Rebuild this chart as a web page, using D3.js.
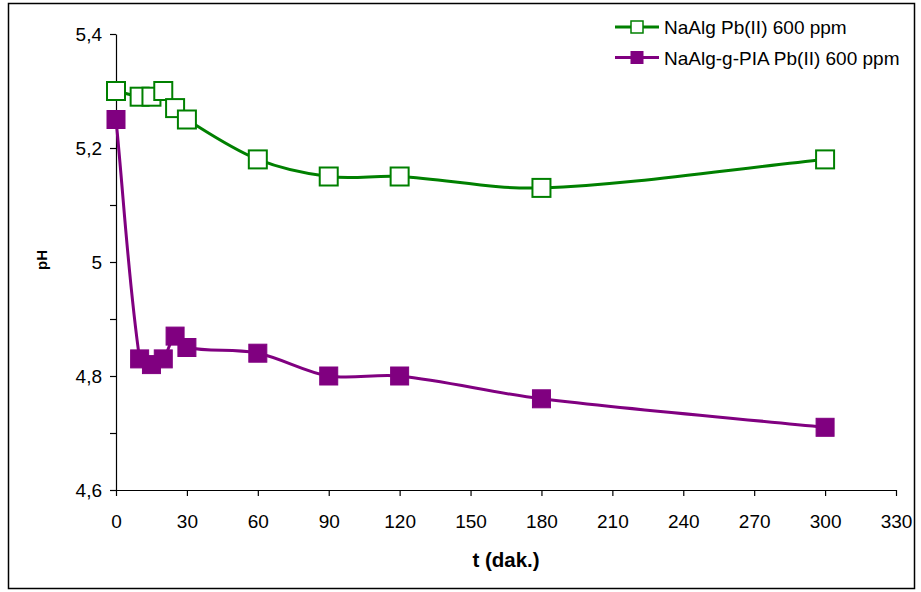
<!DOCTYPE html>
<html>
<head>
<meta charset="utf-8">
<script src="https://cdn.jsdelivr.net/npm/d3@7"></script>
<style>
  html, body { margin: 0; padding: 0; background: #fff; }
  svg { display: block; font-family: "Liberation Sans", Arial, sans-serif; }
</style>
</head>
<body>
<svg id="chart" width="921" height="592"></svg>
<script>
// Sampling times (minutes) and measured pH for each sorbent
const times = [0, 10, 15, 20, 25, 30, 60, 90, 120, 180, 300];
const phNaAlg = [5.30, 5.29, 5.29, 5.30, 5.27, 5.25, 5.18, 5.15, 5.15, 5.13, 5.18];
const phNaAlgPIA = [5.25, 4.83, 4.82, 4.83, 4.87, 4.85, 4.84, 4.80, 4.80, 4.76, 4.71];
const seriesNames = ["NaAlg Pb(II) 600 ppm", "NaAlg-g-PIA Pb(II) 600 ppm"];
const xTicks = [0, 30, 60, 90, 120, 150, 180, 210, 240, 270, 300, 330];
const yLabelTicks = [4.6, 4.8, 5.0, 5.2, 5.4];
const yMinorTicks = [4.7, 4.9, 5.1, 5.3];

const svg = d3.select("#chart");

// Outer chart frame
svg.append("rect")
  .attr("x", 8.5).attr("y", 3.5)
  .attr("width", 906).attr("height", 585)
  .attr("fill", "none").attr("stroke", "#000").attr("stroke-width", 1.5);

const x = d3.scaleLinear().domain([0, 330]).range([116, 896]);
const y = d3.scaleLinear().domain([4.6, 5.4]).range([490, 34]);

const fmt = v => (Math.round(v * 10) / 10).toString().replace(".", ",");
const FONT = "'Liberation Sans', Arial, sans-serif";

// X axis
const xAxis = svg.append("g")
  .attr("transform", `translate(0,${y(4.6)})`)
  .call(d3.axisBottom(x).tickValues(xTicks).tickSize(6).tickSizeOuter(0).tickPadding(19));
xAxis.selectAll("text").attr("font-size", 19).attr("fill", "#000").attr("font-family", FONT);

// Y axis: ticks every 0.1, labels every 0.2
const yAxis = svg.append("g")
  .attr("transform", `translate(${x(0)},0)`)
  .call(d3.axisLeft(y).tickValues(yLabelTicks.concat(yMinorTicks))
    .tickFormat(v => yLabelTicks.some(t => Math.abs(t - v) < 1e-9) ? fmt(v) : "")
    .tickSize(6).tickSizeOuter(0).tickPadding(8));
yAxis.selectAll("text").attr("font-size", 19).attr("fill", "#000").attr("font-family", FONT);

svg.selectAll(".domain, .tick line").attr("stroke", "#000").attr("stroke-width", 1.2);

// Axis titles
svg.append("text")
  .attr("x", (x(0) + x(330)) / 2).attr("y", 567)
  .attr("text-anchor", "middle").attr("font-size", 20.5).attr("font-weight", "bold")
  .text("t (dak.)");
svg.append("text")
  .attr("transform", `translate(47,260) rotate(-90)`)
  .attr("text-anchor", "middle").attr("font-size", 15).attr("font-weight", "bold")
  .text("pH");

// Smoothed line: cubic Bezier whose tangent at each point is split between
// its two sides in proportion to the adjacent segment lengths (no overshoot
// next to very short segments).
function smoothCurve(context) {
  let pts = [];
  return {
    areaStart() {}, areaEnd() {},
    lineStart() { pts = []; },
    point(px, py) { pts.push([+px, +py]); },
    lineEnd() {
      const n = pts.length;
      if (!n) return;
      context.moveTo(pts[0][0], pts[0][1]);
      if (n === 1) return;
      const dist = (a, b) => Math.hypot(b[0] - a[0], b[1] - a[1]);
      const ctrl = i => {
        const p0 = pts[Math.max(0, i - 1)], p1 = pts[i], p2 = pts[Math.min(n - 1, i + 1)];
        const tx = p2[0] - p0[0], ty = p2[1] - p0[1];
        const dA = dist(p0, p1), dB = dist(p1, p2), s = dA + dB || 1;
        return {
          back: [p1[0] - tx * dA / s / 3, p1[1] - ty * dA / s / 3],
          fwd: [p1[0] + tx * dB / s / 3, p1[1] + ty * dB / s / 3]
        };
      };
      const c = pts.map((_, i) => ctrl(i));
      for (let i = 0; i < n - 1; i++) {
        const a = c[i].fwd, b = c[i + 1].back, p = pts[i + 1];
        context.bezierCurveTo(a[0], a[1], b[0], b[1], p[0], p[1]);
      }
    }
  };
}

const line = d3.line().curve(smoothCurve)
  .x(d => x(d[0])).y(d => y(d[1]));

const series = [
  { name: seriesNames[0], values: phNaAlg, color: "#008000", filled: false },
  { name: seriesNames[1], values: phNaAlgPIA, color: "#800080", filled: true }
];

series.forEach(s => {
  const pts = times.map((t, i) => [t, s.values[i]]);
  svg.append("path").datum(pts)
    .attr("d", line).attr("fill", "none")
    .attr("stroke", s.color).attr("stroke-width", 3);
});

const mk = 18;
series.forEach(s => {
  const pts = times.map((t, i) => [t, s.values[i]]);
  svg.append("g").selectAll("rect").data(pts).join("rect")
    .attr("x", d => x(d[0]) - mk / 2).attr("y", d => y(d[1]) - mk / 2)
    .attr("width", mk).attr("height", mk)
    .attr("fill", s.filled ? s.color : "#fff")
    .attr("stroke", s.color).attr("stroke-width", s.filled ? 1 : 2);
});

// Legend
const legend = svg.append("g");
series.forEach((s, i) => {
  const ly = 27 + i * 30.5;
  legend.append("line").attr("x1", 615).attr("x2", 659).attr("y1", ly).attr("y2", ly)
    .attr("stroke", s.color).attr("stroke-width", 3);
  legend.append("rect").attr("x", 637 - 6).attr("y", ly - 6)
    .attr("width", 12).attr("height", 12)
    .attr("fill", s.filled ? s.color : "#fff")
    .attr("stroke", s.color).attr("stroke-width", s.filled ? 1 : 1.5);
  legend.append("text").attr("x", 664).attr("y", ly + 7)
    .attr("font-size", 19).attr("fill", "#000").text(s.name);
});
</script>
</body>
</html>
